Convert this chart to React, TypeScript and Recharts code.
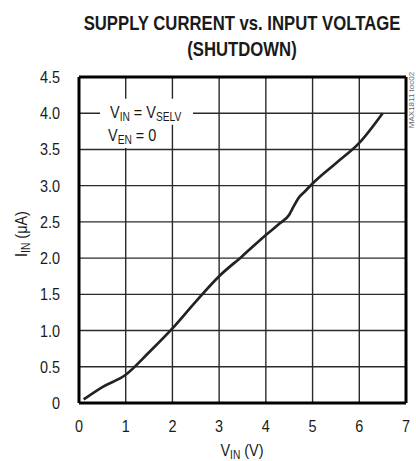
import React from 'react';
import {
  LineChart,
  Line,
  XAxis,
  YAxis,
  CartesianGrid,
  ReferenceLine,
  ReferenceArea,
} from 'recharts';

const vin = [0.1, 0.5, 1.0, 1.5, 2.0, 2.5, 3.0, 3.5, 4.0, 4.3, 4.5, 4.6, 4.7, 4.85, 5.0, 5.5, 6.0, 6.5];
const iin = [0.05, 0.22, 0.39, 0.7, 1.03, 1.4, 1.75, 2.03, 2.32, 2.48, 2.6, 2.72, 2.83, 2.93, 3.03, 3.31, 3.59, 4.0];

const xTicks = [0, 1, 2, 3, 4, 5, 6, 7];
const yTicks = [0, 0.5, 1.0, 1.5, 2.0, 2.5, 3.0, 3.5, 4.0, 4.5];

const data = vin.map((v, i) => ({ vin: v, iin: iin[i] }));

const FONT = "'Liberation Sans', Arial, sans-serif";
const INK = '#1a1a1a';
const SQUEEZE = 0.85; // fake a condensed face

const fmtY = (v: number) => (v === 0 ? '0' : v.toFixed(1));

const XTick = (props: any) => {
  const { x, y, payload } = props;
  return (
    <g transform={`translate(${x},${y}) scale(${SQUEEZE},1)`}>
      <text x={0} y={27} textAnchor="middle" fontSize={17} fill={INK} fontFamily={FONT}>
        {payload.value}
      </text>
    </g>
  );
};

const YTick = (props: any) => {
  const { x, y, payload } = props;
  return (
    <g transform={`translate(${x - 17},${y}) scale(${SQUEEZE},1)`}>
      <text x={0} y={6} textAnchor="end" fontSize={17} fill={INK} fontFamily={FONT}>
        {fmtY(payload.value)}
      </text>
    </g>
  );
};

const Sub = ({ children }: { children: React.ReactNode }) => (
  <tspan fontSize={12} dy={3}>{children}</tspan>
);

// titles, axis labels and the condition note, in pixel space on top of the chart
const Overlay = () => (
  <svg
    width={416}
    height={461}
    style={{ position: 'absolute', left: 0, top: 0, pointerEvents: 'none' }}
    fontFamily={FONT}
    fill={INK}
  >
    <g transform="translate(242,30) scale(0.795,1)">
      <text x={0} y={0} textAnchor="middle" fontSize={21} fontWeight="bold">
        SUPPLY CURRENT vs. INPUT VOLTAGE
      </text>
    </g>
    <g transform="translate(242,56) scale(0.795,1)">
      <text x={0} y={0} textAnchor="middle" fontSize={21} fontWeight="bold">
        (SHUTDOWN)
      </text>
    </g>

    <g transform={`translate(110,118) scale(${SQUEEZE},1)`}>
      <text x={0} y={0} fontSize={17}>
        V<Sub>IN</Sub>
        <tspan dy={-3}> = V</tspan>
        <Sub>SELV</Sub>
      </text>
    </g>
    <g transform={`translate(108,141) scale(${SQUEEZE},1)`}>
      <text x={0} y={0} fontSize={17}>
        V<Sub>EN</Sub>
        <tspan dy={-3}> = 0</tspan>
      </text>
    </g>

    <g transform={`translate(242,456) scale(${SQUEEZE},1)`}>
      <text x={0} y={0} textAnchor="middle" fontSize={17}>
        V<Sub>IN</Sub>
        <tspan dy={-3}> (V)</tspan>
      </text>
    </g>
    <g transform={`translate(27,234) rotate(-90) scale(${SQUEEZE},1)`}>
      <text x={0} y={0} textAnchor="middle" fontSize={17}>
        I<Sub>IN</Sub>
        <tspan dy={-3}> (μA)</tspan>
      </text>
    </g>

    <text x={414} y={100} textAnchor="middle" fontSize={8} fill="#666" transform="rotate(-90 414 100)">
      MAX1811 toc02
    </text>
  </svg>
);

export default function App() {
  return (
    <div style={{ position: 'absolute', left: 0, top: 0, width: 416, height: 461, background: '#fff' }}>
      <LineChart
        width={416}
        height={461}
        data={data}
        margin={{ top: 77, right: 10, bottom: 28, left: 0 }}
      >
        <CartesianGrid stroke="#2a2a2a" strokeWidth={1.4} />
        <XAxis
          dataKey="vin"
          type="number"
          domain={[0, 7]}
          ticks={xTicks}
          height={30}
          tickLine={false}
          tickSize={0}
          axisLine={false}
          tick={<XTick />}
        />
        <YAxis
          dataKey="iin"
          type="number"
          domain={[0, 4.5]}
          ticks={yTicks}
          width={79}
          tickLine={false}
          tickSize={0}
          axisLine={false}
          tick={<YTick />}
        />
        <ReferenceArea x1={0.45} x2={2.44} y1={3.84} y2={4.2} fill="#fff" fillOpacity={1} stroke="none" />
        <ReferenceArea x1={0.45} x2={1.75} y1={3.52} y2={3.84} fill="#fff" fillOpacity={1} stroke="none" />

        <ReferenceLine x={0} stroke="#000" strokeWidth={3} />
        <ReferenceLine x={7} stroke="#000" strokeWidth={3} />
        <ReferenceLine y={0} stroke="#000" strokeWidth={3} />
        <ReferenceLine y={4.5} stroke="#000" strokeWidth={3} />

        <Line
          type="monotone"
          dataKey="iin"
          stroke="#222"
          strokeWidth={2.7}
          dot={false}
          isAnimationActive={false}
        />
      </LineChart>
      <Overlay />
    </div>
  );
}
